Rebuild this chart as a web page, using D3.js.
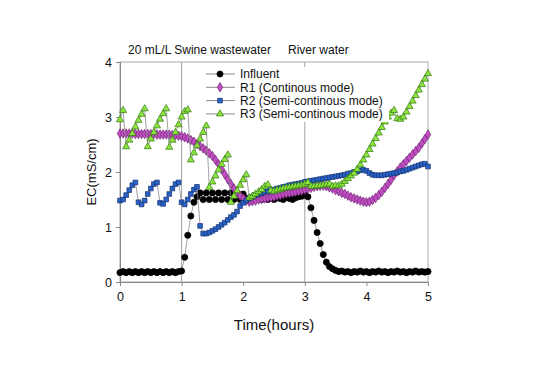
<!DOCTYPE html>
<html>
<head>
<meta charset="utf-8">
<script src="https://cdn.jsdelivr.net/npm/d3@7"></script>
<style>
    html, body { margin: 0; padding: 0; background: #fff; }
    #chart { width: 534px; height: 384px; }
    text { font-family: Arial, "Liberation Sans", sans-serif; fill: #111; }
</style>
</head>
<body>
<div id="chart"></div>
<script>
// Sampling interval of the measurements (hours)
const timeStep = 0.05;

const influent = [
    0.17, 0.19, 0.17, 0.19, 0.17, 0.19, 0.17, 0.19, 0.17, 0.19,
    0.17, 0.19, 0.17, 0.19, 0.17, 0.19, 0.17, 0.19, 0.17, 0.19,
    0.2, 0.45, 0.85, 1.2, 1.45, 1.55, 1.62, 1.5, 1.62, 1.5,
    1.62, 1.5, 1.62, 1.5, 1.62, 1.5, 1.62, 1.5, 1.62, 1.5,
    1.6, 1.52, 1.5, 1.54, 1.5, 1.53, 1.5, 1.52, 1.5, 1.54,
    1.5, 1.53, 1.52, 1.5, 1.54, 1.52, 1.5, 1.53, 1.55, 1.56,
    1.58, 1.55, 1.35, 1.12, 0.9, 0.7, 0.5, 0.36, 0.28, 0.24,
    0.21, 0.19, 0.2, 0.18, 0.19, 0.17, 0.19, 0.18, 0.2, 0.18,
    0.19, 0.17, 0.19, 0.18, 0.2, 0.18, 0.19, 0.17, 0.19, 0.18,
    0.2, 0.18, 0.19, 0.17, 0.19, 0.18, 0.2, 0.18, 0.19, 0.18,
    0.19
];

const r1 = [
    2.7, 2.7, 2.7, 2.7, 2.7, 2.69, 2.69, 2.69, 2.69, 2.69,
    2.69, 2.69, 2.68, 2.68, 2.68, 2.68, 2.68, 2.67, 2.67, 2.66,
    2.65, 2.63, 2.61, 2.58, 2.55, 2.51, 2.47, 2.43, 2.39, 2.34,
    2.29, 2.22, 2.14, 2.05, 1.96, 1.87, 1.78, 1.7, 1.63, 1.57,
    1.52, 1.48, 1.46, 1.47, 1.48, 1.5, 1.51, 1.52, 1.53, 1.54,
    1.55, 1.57, 1.58, 1.6, 1.61, 1.62, 1.63, 1.64, 1.65, 1.66,
    1.68, 1.7, 1.71, 1.73, 1.74, 1.75, 1.75, 1.74, 1.72, 1.7,
    1.67, 1.65, 1.62, 1.6, 1.57, 1.54, 1.52, 1.5, 1.48, 1.46,
    1.45, 1.46, 1.49, 1.53, 1.58, 1.64, 1.71, 1.78, 1.86, 1.94,
    2.01, 2.08, 2.14, 2.2, 2.26, 2.32, 2.38, 2.44, 2.52, 2.6,
    2.68
];

const r2 = [
    1.48, 1.5, 1.58, 1.67, 1.76, 1.81, 1.45, 1.41, 1.48, 1.6,
    1.7, 1.78, 1.81, 1.44, 1.42, 1.5, 1.6, 1.7, 1.78, 1.81,
    1.45, 1.41, 1.5, 1.6, 1.68, 1.73, 1.02, 0.88, 0.88, 0.9,
    0.93, 0.96, 1.0, 1.04, 1.08, 1.13, 1.18, 1.22, 1.28, 1.38,
    1.44, 1.48, 1.52, 1.55, 1.58, 1.6, 1.62, 1.64, 1.65, 1.67,
    1.68, 1.7, 1.71, 1.73, 1.74, 1.76, 1.77, 1.78, 1.79, 1.8,
    1.82, 1.83, 1.84, 1.85, 1.86, 1.87, 1.88, 1.89, 1.9, 1.91,
    1.92, 1.93, 1.94, 1.95, 1.97, 1.98, 2.0, 2.01, 2.03, 2.04,
    2.02, 1.98, 1.95, 1.94, 1.94, 1.94, 1.95, 1.96, 1.97, 1.98,
    1.99, 2.01, 2.02, 2.04, 2.06, 2.08, 2.1, 2.12, 2.14, 2.15,
    2.1
];

const r3 = [
    2.95, 3.12, 2.46, 2.58, 2.7, 2.82, 2.94, 3.05, 3.15, 2.46,
    2.6, 2.72, 2.84, 2.96, 3.06, 3.15, 2.45, 2.58, 2.72, 2.86,
    3.0, 3.1, 3.13, 2.22, 2.35, 2.48, 2.6, 2.72, 2.84, 1.72,
    1.82, 1.93, 2.04, 2.14, 2.23, 2.31, 1.45, 1.56, 1.66, 1.76,
    1.86, 1.95, 1.53, 1.56, 1.6, 1.64, 1.68, 1.74, 1.77, 1.66,
    1.65, 1.67, 1.68, 1.7, 1.71, 1.72, 1.73, 1.74, 1.75, 1.76,
    1.78, 1.81, 1.74, 1.74, 1.75, 1.75, 1.76, 1.77, 1.78, 1.74,
    1.75, 1.75, 1.78, 1.83, 1.88, 1.93, 1.98, 2.05, 2.13, 2.22,
    2.31, 2.41, 2.51, 2.61, 2.71, 2.81, 2.91, 3.0, 3.07, 3.12,
    2.97, 2.96, 3.0, 3.09, 3.19, 3.29, 3.39, 3.49, 3.59, 3.69,
    3.79
];

const seriesNames = ['Influent', 'R1 (Continous mode)', 'R2 (Semi-continous mode)', 'R3 (Semi-continous mode)'];
const xTicks = [0, 1, 2, 3, 4, 5];
const yTicks = [0, 1, 2, 3, 4];
const phaseLines = [1, 3];
const phaseLabels = ['20 mL/L Swine wastewater', 'River water'];

const width = 534;
const height = 384;
const margin = { top: 62, right: 106, bottom: 102, left: 120 };

const svg = d3.select('#chart')
    .append('svg')
    .attr('width', width)
    .attr('height', height);

const x = d3.scaleLinear().domain([0, 5]).range([margin.left, width - margin.right]);
const y = d3.scaleLinear().domain([0, 4]).range([height - margin.bottom, margin.top]);

const styles = [
    { symbol: d3.symbolCircle, size: 30, fill: '#000', stroke: '#000' },
    { symbol: d3.symbolDiamond, size: 26, fill: '#c24cc2', stroke: '#6e2a78' },
    { symbol: d3.symbolSquare, size: 22, fill: '#2a62c8', stroke: '#123070' },
    { symbol: d3.symbolTriangle, size: 22, fill: '#8ee43e', stroke: '#2f7a10' }
];

const allSeries = [influent, r1, r2, r3].map((values, i) => ({
    name: seriesNames[i],
    style: styles[i],
    points: values.map((v, j) => ({ t: j * timeStep, v: v }))
}));

// Frame (top and right)
svg.append('rect')
    .attr('x', x(0))
    .attr('y', y(4))
    .attr('width', x(5) - x(0))
    .attr('height', y(0) - y(4))
    .attr('fill', 'none')
    .attr('stroke', '#a8a8a8')
    .attr('stroke-width', 1);

// Phase separators
svg.selectAll('.phase-line')
    .data(phaseLines)
    .join('line')
    .attr('class', 'phase-line')
    .attr('x1', d => x(d))
    .attr('x2', d => x(d))
    .attr('y1', y(4))
    .attr('y2', y(0))
    .attr('stroke', '#a0a0a0')
    .attr('stroke-width', 1);

// Axes
const xAxis = svg.append('g')
    .attr('transform', `translate(0,${y(0)})`)
    .call(d3.axisBottom(x).tickValues(xTicks).tickSize(4).tickPadding(6).tickFormat(d3.format('d')));

const yAxis = svg.append('g')
    .attr('transform', `translate(${x(0)},0)`)
    .call(d3.axisLeft(y).tickValues(yTicks).tickSize(4).tickPadding(4).tickFormat(d3.format('d')));

[xAxis, yAxis].forEach(axis => {
    axis.select('.domain').attr('stroke', '#888');
    axis.selectAll('.tick line').attr('stroke', '#888');
    axis.selectAll('.tick text')
        .attr('font-size', 12.5)
        .attr('font-family', 'Arial, "Liberation Sans", sans-serif')
        .attr('fill', '#111');
});

// Series: thin gray connecting line, then markers
const line = d3.line().x(d => x(d.t)).y(d => y(d.v));

allSeries.forEach(s => {
    svg.append('path')
        .datum(s.points)
        .attr('d', line)
        .attr('fill', 'none')
        .attr('stroke', '#8a8a8a')
        .attr('stroke-width', 0.8);

    svg.append('g')
        .selectAll('path')
        .data(s.points)
        .join('path')
        .attr('transform', d => `translate(${x(d.t)},${y(d.v)})`)
        .attr('d', d3.symbol().type(s.style.symbol).size(s.style.size))
        .attr('fill', s.style.fill)
        .attr('stroke', s.style.stroke)
        .attr('stroke-width', 0.7);
});

// Phase labels above the plot
svg.append('text')
    .attr('x', 128)
    .attr('y', 54)
    .attr('font-size', 12)
    .text(phaseLabels[0]);

svg.append('text')
    .attr('x', 288)
    .attr('y', 54)
    .attr('font-size', 12)
    .text(phaseLabels[1]);

// Axis titles
svg.append('text')
    .attr('x', (x(0) + x(5)) / 2)
    .attr('y', 330)
    .attr('text-anchor', 'middle')
    .attr('font-size', 15)
    .text('Time(hours)');

svg.append('text')
    .attr('transform', `translate(96,${(y(0) + y(4)) / 2}) rotate(-90)`)
    .attr('text-anchor', 'middle')
    .attr('font-size', 13)
    .text('EC(mS/cm)');

// Legend
const legend = svg.append('g').attr('transform', 'translate(203,67)');
legend.append('rect')
    .attr('width', 186)
    .attr('height', 55)
    .attr('fill', '#fff');

const rows = legend.selectAll('.legend-row')
    .data(allSeries)
    .join('g')
    .attr('class', 'legend-row')
    .attr('transform', (d, i) => `translate(0,${7 + i * 13.3})`);

rows.append('line')
    .attr('x1', 3)
    .attr('x2', 32)
    .attr('stroke', '#8a8a8a')
    .attr('stroke-width', 1);

rows.append('path')
    .attr('transform', 'translate(17,0)')
    .attr('d', d => d3.symbol().type(d.style.symbol).size(d.style.size)())
    .attr('fill', d => d.style.fill)
    .attr('stroke', d => d.style.stroke)
    .attr('stroke-width', 0.7);

rows.append('text')
    .attr('x', 37)
    .attr('dy', '0.36em')
    .attr('font-size', 12)
    .text(d => d.name);
</script>
</body>
</html>
